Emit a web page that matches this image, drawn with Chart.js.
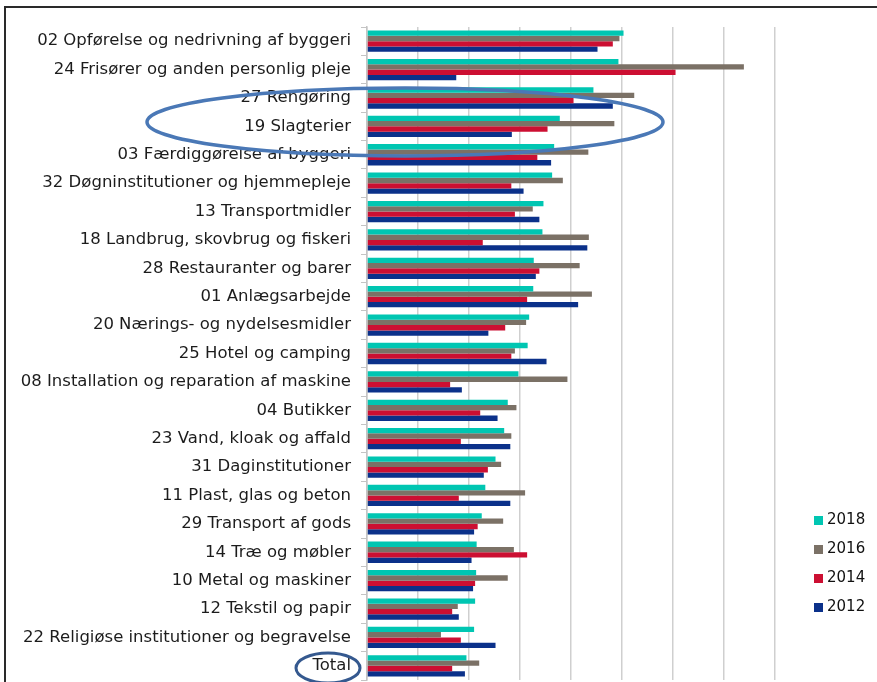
<!DOCTYPE html>
<html lang="da">
<head>
<meta charset="utf-8">
<title>Brancher 2012-2018</title>
<script src="https://cdn.jsdelivr.net/npm/chart.js@4.4.1/dist/chart.umd.min.js"></script>
<style>
  html, body { margin: 0; padding: 0; background: #fff; }
  #wrap { position: relative; width: 877px; height: 682px; overflow: hidden; }
  #ramme {
    position: absolute; left: 4px; top: 6px; width: 900px; height: 700px;
    border-top: 2px solid #2a2a2a; border-left: 2px solid #2a2a2a;
    pointer-events: none;
  }
</style>
</head>
<body>
<div id="wrap">
  <canvas id="brancheChart" width="877" height="682"></canvas>
  <div id="ramme"></div>
</div>
<script>
// Kategorier (øverst til nederst)
const kategorier = [
  '02 Opførelse og nedrivning af byggeri',
  '24 Frisører og anden personlig pleje',
  '27 Rengøring',
  '19 Slagterier',
  '03 Færdiggørelse af byggeri',
  '32 Døgninstitutioner og hjemmepleje',
  '13 Transportmidler',
  '18 Landbrug, skovbrug og fiskeri',
  '28 Restauranter og barer',
  '01 Anlægsarbejde',
  '20 Nærings- og nydelsesmidler',
  '25 Hotel og camping',
  '08 Installation og reparation af maskine',
  '04 Butikker',
  '23 Vand, kloak og affald',
  '31 Daginstitutioner',
  '11 Plast, glas og beton',
  '29 Transport af gods',
  '14 Træ og møbler',
  '10 Metal og maskiner',
  '12 Tekstil og papir',
  '22 Religiøse institutioner og begravelse',
  'Total'
];

// Værdier (1 enhed = et gitterinterval)
const v2018 = [5.03, 4.93, 4.44, 3.78, 3.67, 3.63, 3.46, 3.44, 3.27, 3.26, 3.18, 3.15, 2.97, 2.76, 2.69, 2.52, 2.32, 2.25, 2.15, 2.14, 2.12, 2.10, 1.95];
const v2016 = [4.95, 7.39, 5.24, 4.85, 4.34, 3.84, 3.25, 4.35, 4.17, 4.41, 3.12, 2.90, 3.93, 2.93, 2.83, 2.63, 3.10, 2.67, 2.88, 2.76, 1.78, 1.45, 2.20];
const v2014 = [4.82, 6.05, 4.05, 3.54, 3.34, 2.83, 2.90, 2.27, 3.38, 3.14, 2.71, 2.83, 1.63, 2.22, 1.84, 2.37, 1.80, 2.17, 3.14, 2.12, 1.67, 1.84, 1.67];
const v2012 = [4.52, 1.75, 4.82, 2.84, 3.61, 3.07, 3.38, 4.32, 3.31, 4.14, 2.38, 3.52, 1.86, 2.56, 2.81, 2.29, 2.81, 2.10, 2.05, 2.08, 1.80, 2.52, 1.92];

const aarstal = ['2018', '2016', '2014', '2012'];
const farver = ['#00c6b2', '#7b7166', '#cc0f32', '#0b318a'];

// Legende tegnet til højre, under hinanden
const legendePlugin = {
  id: 'legendeHoejre',
  afterDraw(chart) {
    const ctx = chart.ctx;
    ctx.save();
    ctx.font = '15px "DejaVu Sans"';
    ctx.textBaseline = 'middle';
    chart.data.datasets.forEach((ds, i) => {
      const y = 520 + i * 29;
      ctx.fillStyle = ds.backgroundColor;
      ctx.fillRect(814, y - 4, 9, 9);
      ctx.fillStyle = '#111';
      ctx.fillText(ds.label, 827, y);
    });
    ctx.restore();
  }
};

// Håndtegnede markeringer (ellipser) fra originalen
const markeringPlugin = {
  id: 'markering',
  afterDraw(chart) {
    const ctx = chart.ctx;
    ctx.save();
    ctx.strokeStyle = '#4a78b6';
    ctx.lineWidth = 3.5;
    ctx.beginPath();
    ctx.ellipse(405, 122, 258, 34, 0, 0, Math.PI * 2);
    ctx.stroke();
    ctx.strokeStyle = '#35598f';
    ctx.lineWidth = 3;
    ctx.beginPath();
    ctx.ellipse(328, 668, 32, 15, 0, 0, Math.PI * 2);
    ctx.stroke();
    ctx.restore();
  }
};

const ctx = document.getElementById('brancheChart').getContext('2d');
new Chart(ctx, {
  type: 'bar',
  data: {
    labels: kategorier,
    datasets: [v2018, v2016, v2014, v2012].map((d, i) => ({
      label: aarstal[i],
      data: d,
      backgroundColor: farver[i],
      borderWidth: 0,
      categoryPercentage: 0.75,
      barPercentage: 1.0
    }))
  },
  options: {
    indexAxis: 'y',
    responsive: false,
    animation: false,
    layout: { padding: { top: 27, right: 102, bottom: 2, left: 0 } },
    plugins: {
      legend: { display: false },
      tooltip: { enabled: false }
    },
    scales: {
      x: {
        min: 0,
        max: 8,
        ticks: { display: false, stepSize: 1 },
        grid: { color: '#cfcfcf', lineWidth: 1.5, drawTicks: false },
        border: { display: false },
        afterFit: (s) => { s.height = 0; s.paddingLeft = 0; s.paddingRight = 0; }
      },
      y: {
        grid: { drawOnChartArea: false, tickLength: 6, color: '#c4c4c4' },
        border: { color: '#c4c4c4', width: 1.5 },
        ticks: {
          autoSkip: false,
          padding: 10,
          color: '#1c1c1c',
          font: { family: 'DejaVu Sans', size: 16.5 }
        },
        afterFit: (s) => { s.width = 367; s.paddingTop = 0; s.paddingBottom = 0; }
      }
    }
  },
  plugins: [legendePlugin, markeringPlugin]
});
</script>
</body>
</html>
